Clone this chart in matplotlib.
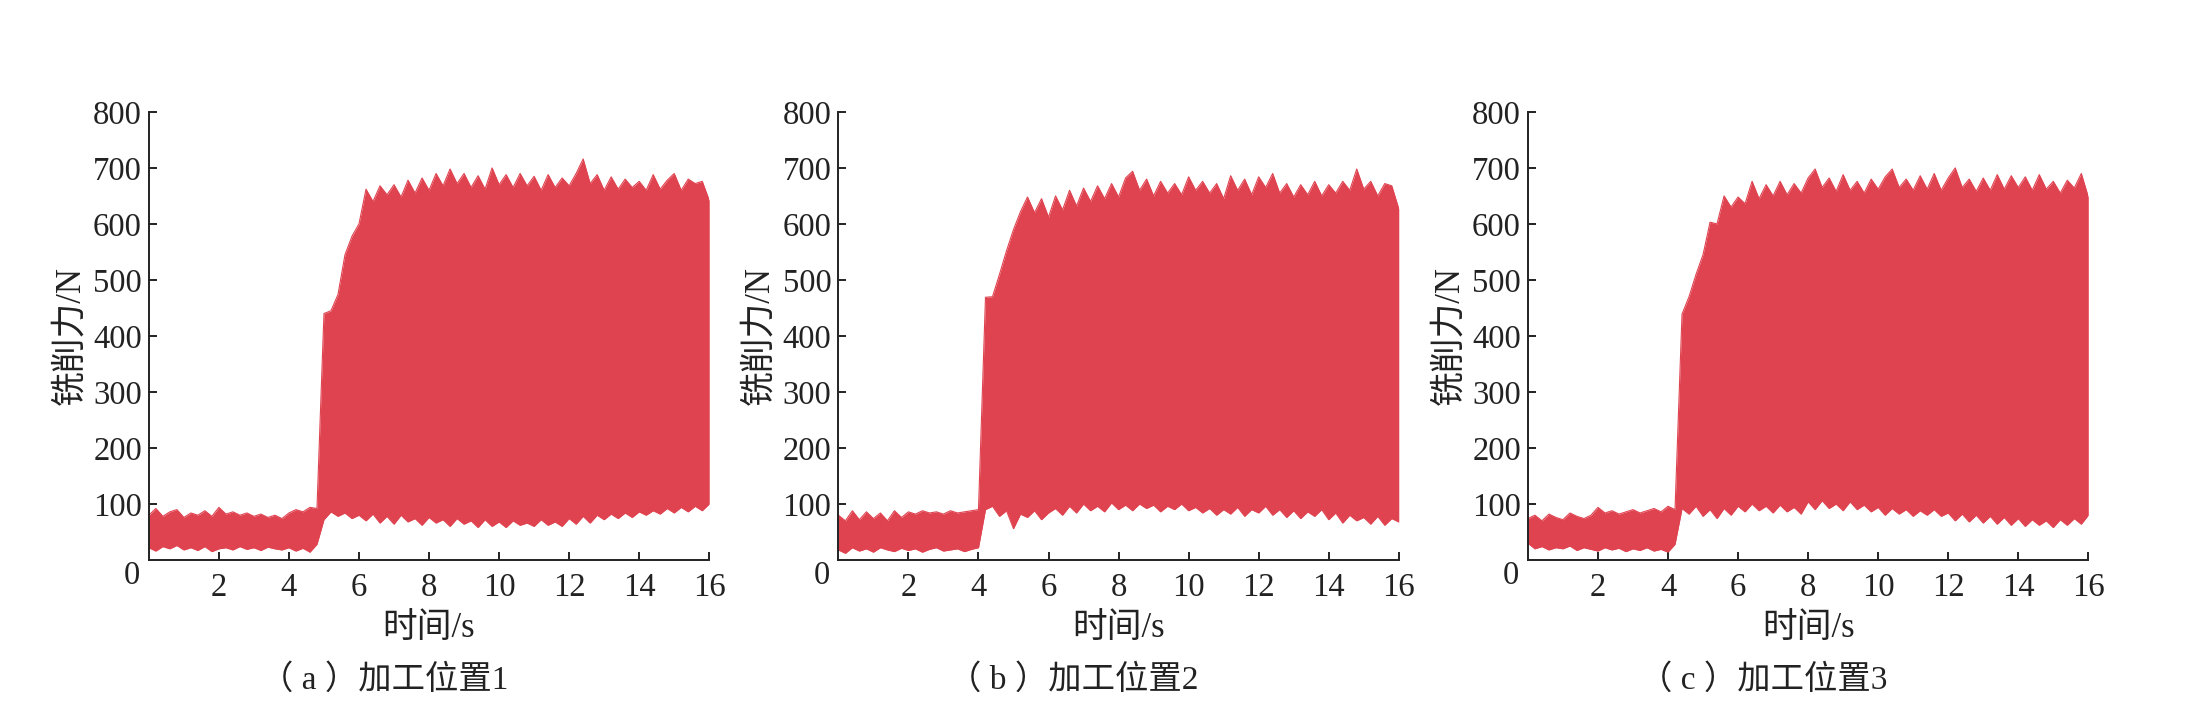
import numpy as np
import matplotlib
matplotlib.use("Agg")
import matplotlib.pyplot as plt

plt.rcParams['font.family'] = ['Liberation Serif', 'Noto Sans CJK SC']
plt.rcParams['axes.unicode_minus'] = False

# time grid (s), 0.2 s step
t = np.arange(0, 16.001, 0.2)

# envelope of the milling force signal (N)
upper_a = [80, 92, 78, 86, 90, 76, 84, 80, 88, 78, 94, 82, 86, 80, 84, 78, 82, 76, 80, 74,
           84, 90, 86, 94, 92,
           440, 445, 474, 545, 578, 600,
           662, 640, 668, 652, 670, 648, 678, 655, 682, 660,
           690, 668, 698, 672, 690, 665, 686, 662, 700, 670,
           688, 665, 690, 668, 685, 660, 688, 665, 682, 668,
           690, 716, 672, 688, 660, 684, 662, 680, 665, 676,
           660, 688, 662, 678, 690, 660, 680, 672, 676, 642]
lower_a = [22, 16, 24, 20, 26, 18, 22, 17, 24, 15, 20, 22, 18, 24, 19, 22, 17, 23, 20, 18,
           22, 16, 21, 14, 28,
           72, 86, 78, 84, 74, 80,
           70, 82, 66, 78, 64, 80, 68, 74, 62, 76,
           66, 72, 60, 74, 64, 70, 58, 72, 60, 68,
           58, 70, 62, 66, 60, 72, 62, 68, 60, 74,
           64, 78, 66, 80, 72, 82, 74, 84, 76, 86,
           80, 88, 82, 92, 84, 94, 86, 96, 88, 100]

upper_b = [80, 70, 88, 72, 86, 74, 84, 70, 88, 76, 86, 82, 88, 84, 86, 82, 88, 84, 86, 88, 90,
           469, 470, 510, 552, 590, 622, 648, 620, 645, 612,
           650, 625, 660, 632, 664, 640, 668, 645, 672, 648,
           682, 694, 660, 680, 650, 676, 655, 672, 652, 684,
           660, 676, 655, 672, 645, 686, 660, 680, 652, 684,
           665, 690, 655, 672, 648, 670, 652, 676, 650, 670,
           655, 676, 660, 698, 662, 676, 650, 672, 668, 627]
lower_b = [18, 12, 22, 16, 20, 14, 22, 18, 15, 21, 17, 20, 14, 19, 22, 16, 18, 20, 15, 19, 22,
           90, 96, 78, 88, 56, 82, 76, 88, 72, 84,
           92, 80, 96, 84, 100, 88, 96, 86, 102, 90,
           98, 88, 100, 92, 98, 86, 96, 90, 100, 88,
           94, 84, 92, 80, 90, 82, 94, 78, 90, 84,
           96, 80, 90, 76, 88, 74, 86, 78, 90, 72,
           84, 66, 80, 70, 76, 64, 78, 62, 74, 68]

upper_c = [74, 80, 70, 82, 76, 72, 84, 78, 74, 80, 94, 84, 88, 82, 86, 90, 84, 88, 92, 86, 96, 90,
           439, 470, 510, 545, 603, 600, 650, 630, 648,
           636, 676, 645, 670, 650, 676, 652, 672, 655, 682,
           698, 665, 682, 658, 688, 660, 676, 655, 680, 662,
           684, 698, 665, 680, 660, 686, 662, 690, 660, 682,
           700, 665, 680, 658, 682, 660, 688, 662, 686, 665,
           684, 660, 688, 662, 676, 655, 678, 664, 690, 648]
lower_c = [30, 20, 24, 18, 22, 20, 25, 17, 22, 19, 16, 22, 18, 21, 15, 20, 17, 22, 16, 19, 14, 28,
           92, 82, 96, 78, 90, 74, 92, 80, 96,
           86, 100, 88, 96, 84, 98, 86, 94, 82, 104,
           90, 106, 92, 100, 88, 104, 90, 98, 86, 94,
           80, 92, 82, 90, 78, 88, 80, 90, 78, 84,
           70, 82, 68, 80, 66, 78, 64, 76, 62, 74,
           60, 72, 62, 70, 58, 72, 62, 74, 64, 80]

captions = ["（ a ）加工位置1", "（ b ）加工位置2", "（ c ）加工位置3"]
series = [(upper_a, lower_a), (upper_b, lower_b), (upper_c, lower_c)]

red = "#E04350"
ink = "#222222"
fs_tick = 23.5
fs_lab = 25

fig = plt.figure(figsize=(21.89, 7.08), dpi=100)
lefts = [0.068, 0.383, 0.698]

for i, (up, lo) in enumerate(series):
    ax = fig.add_axes([lefts[i], 0.209, 0.256, 0.633])
    ax.fill_between(t, lo, up, color=red, lw=0)
    ax.plot(t, up, color=red, lw=0.8)
    ax.plot(t, lo, color=red, lw=0.8)

    ax.set_xlim(0, 16)
    ax.set_ylim(0, 800)
    ax.set_xticks(np.arange(2, 17, 2))
    ax.set_yticks(np.arange(100, 801, 100))
    for s in ["top", "right"]:
        ax.spines[s].set_visible(False)
    for s in ["left", "bottom"]:
        ax.spines[s].set_linewidth(1.4)
        ax.spines[s].set_color(ink)
    ax.tick_params(direction="in", length=6, width=1.4, colors=ink,
                   labelsize=fs_tick, labelcolor=ink)
    ax.tick_params(axis="x", pad=9)
    ax.tick_params(axis="y", pad=5)
    ax.text(-0.03, -0.035, "0", transform=ax.transAxes, ha="center", va="center",
            fontsize=fs_tick, color=ink)

    ax.set_ylabel("铣削力/N", fontsize=fs_lab, color=ink)
    ax.yaxis.set_label_coords(-0.11, 0.5)
    ax.set_xlabel("时间/s", fontsize=fs_lab, color=ink)
    ax.xaxis.set_label_coords(0.5, -0.115)
    ax.text(0.42, -0.268, captions[i], transform=ax.transAxes, ha="center", va="center",
            fontsize=fs_lab - 1, color=ink)

fig.savefig("out.png", dpi=100)
